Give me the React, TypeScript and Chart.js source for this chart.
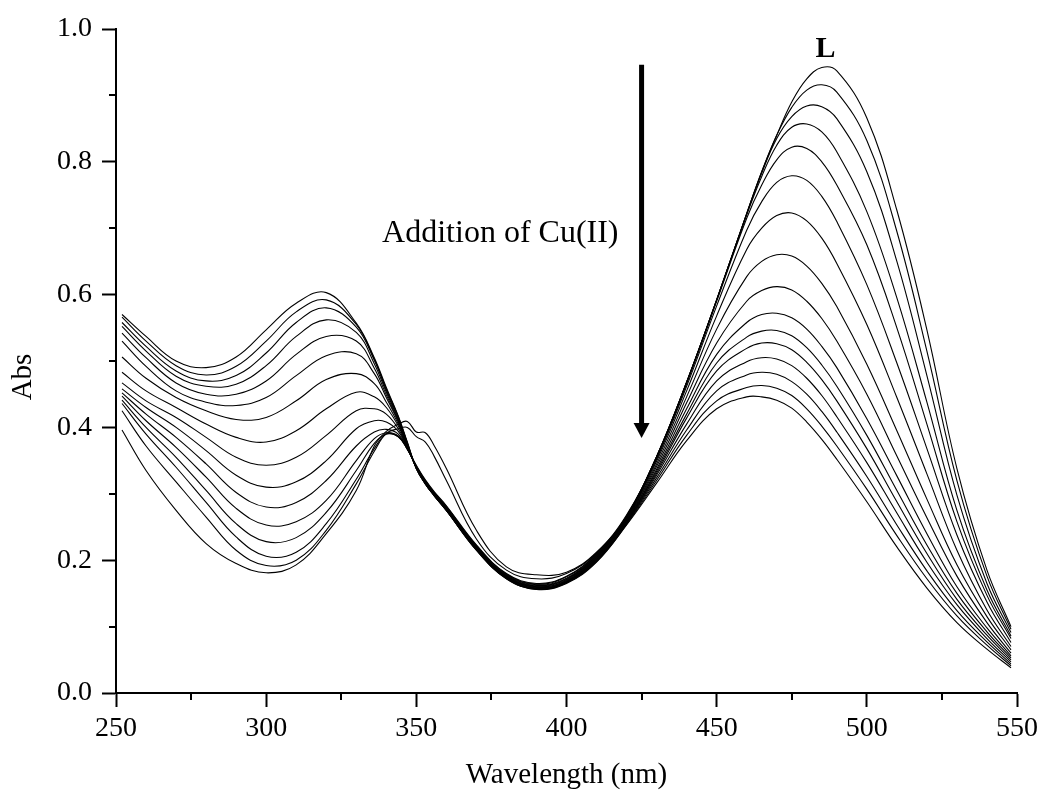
import { useEffect, useRef } from 'react';
import { Chart, registerables } from 'chart.js';

Chart.register(...registerables);

// Wavelength grid (nm)
const WAVELENGTHS = [252, 260, 270, 280, 290, 300, 310, 320, 330, 336, 340, 344, 347, 350, 353, 356, 360, 370, 380, 390, 400, 410, 420, 430, 440, 450, 460, 465, 470, 475, 480, 485, 490, 500, 510, 520, 530, 540, 548];

// Absorbance spectra, from free ligand L (curve 0) to the last Cu(II) addition (curve 15)
const CURVE_00 = [0.396, 0.335, 0.275, 0.225, 0.195, 0.181, 0.193, 0.240, 0.305, 0.372, 0.394, 0.405, 0.409, 0.393, 0.392, 0.372, 0.338, 0.245, 0.190, 0.178, 0.182, 0.212, 0.268, 0.356, 0.468, 0.592, 0.722, 0.785, 0.840, 0.890, 0.925, 0.942, 0.937, 0.866, 0.727, 0.547, 0.338, 0.185, 0.100];
const CURVE_01 = [0.425, 0.372, 0.318, 0.265, 0.215, 0.192, 0.200, 0.245, 0.315, 0.364, 0.391, 0.398, 0.400, 0.386, 0.378, 0.356, 0.320, 0.232, 0.185, 0.172, 0.180, 0.211, 0.267, 0.356, 0.468, 0.592, 0.722, 0.785, 0.840, 0.882, 0.908, 0.916, 0.905, 0.832, 0.695, 0.515, 0.320, 0.176, 0.096];
const CURVE_02 = [0.436, 0.390, 0.340, 0.287, 0.235, 0.206, 0.212, 0.255, 0.322, 0.368, 0.390, 0.386, 0.367, 0.343, 0.321, 0.303, 0.282, 0.223, 0.180, 0.165, 0.176, 0.210, 0.266, 0.356, 0.468, 0.592, 0.722, 0.783, 0.835, 0.868, 0.884, 0.883, 0.865, 0.785, 0.650, 0.478, 0.298, 0.165, 0.091];
const CURVE_03 = [0.441, 0.400, 0.355, 0.305, 0.255, 0.228, 0.234, 0.272, 0.335, 0.376, 0.390, 0.386, 0.367, 0.342, 0.320, 0.302, 0.281, 0.222, 0.179, 0.164, 0.175, 0.209, 0.265, 0.356, 0.468, 0.592, 0.720, 0.778, 0.825, 0.852, 0.857, 0.845, 0.815, 0.725, 0.595, 0.438, 0.275, 0.155, 0.086];
const CURVE_04 = [0.447, 0.410, 0.370, 0.325, 0.278, 0.253, 0.258, 0.290, 0.350, 0.383, 0.392, 0.387, 0.367, 0.341, 0.319, 0.301, 0.280, 0.221, 0.178, 0.163, 0.173, 0.208, 0.264, 0.354, 0.466, 0.590, 0.715, 0.765, 0.803, 0.822, 0.820, 0.800, 0.765, 0.675, 0.550, 0.405, 0.258, 0.147, 0.082];
const CURVE_05 = [0.452, 0.420, 0.385, 0.345, 0.302, 0.280, 0.287, 0.320, 0.372, 0.393, 0.397, 0.390, 0.368, 0.341, 0.318, 0.300, 0.279, 0.220, 0.177, 0.162, 0.172, 0.207, 0.263, 0.352, 0.462, 0.583, 0.697, 0.740, 0.769, 0.779, 0.772, 0.748, 0.710, 0.615, 0.497, 0.368, 0.238, 0.137, 0.076];
const CURVE_06 = [0.458, 0.430, 0.400, 0.365, 0.328, 0.310, 0.318, 0.350, 0.398, 0.410, 0.408, 0.394, 0.369, 0.340, 0.318, 0.300, 0.278, 0.219, 0.176, 0.161, 0.171, 0.206, 0.262, 0.349, 0.455, 0.568, 0.668, 0.700, 0.719, 0.723, 0.711, 0.685, 0.647, 0.555, 0.445, 0.330, 0.215, 0.125, 0.070];
const CURVE_07 = [0.467, 0.440, 0.415, 0.385, 0.355, 0.343, 0.355, 0.388, 0.425, 0.428, 0.420, 0.398, 0.370, 0.340, 0.317, 0.299, 0.278, 0.219, 0.176, 0.160, 0.170, 0.205, 0.261, 0.345, 0.446, 0.548, 0.627, 0.650, 0.660, 0.658, 0.643, 0.617, 0.582, 0.495, 0.395, 0.292, 0.193, 0.115, 0.065];
const CURVE_08 = [0.483, 0.455, 0.430, 0.405, 0.385, 0.378, 0.395, 0.428, 0.453, 0.446, 0.430, 0.402, 0.371, 0.340, 0.317, 0.299, 0.277, 0.218, 0.175, 0.160, 0.169, 0.204, 0.260, 0.341, 0.437, 0.527, 0.590, 0.606, 0.612, 0.607, 0.590, 0.564, 0.530, 0.450, 0.357, 0.264, 0.176, 0.106, 0.060];
const CURVE_09 = [0.506, 0.474, 0.445, 0.425, 0.412, 0.415, 0.440, 0.472, 0.481, 0.466, 0.438, 0.405, 0.372, 0.340, 0.317, 0.298, 0.277, 0.218, 0.175, 0.159, 0.168, 0.203, 0.259, 0.337, 0.428, 0.510, 0.558, 0.570, 0.572, 0.565, 0.548, 0.522, 0.490, 0.413, 0.327, 0.240, 0.160, 0.098, 0.056];
const CURVE_10 = [0.530, 0.492, 0.455, 0.438, 0.433, 0.445, 0.478, 0.508, 0.511, 0.481, 0.445, 0.408, 0.373, 0.339, 0.316, 0.298, 0.276, 0.217, 0.174, 0.158, 0.168, 0.202, 0.258, 0.334, 0.420, 0.497, 0.536, 0.545, 0.546, 0.538, 0.520, 0.494, 0.462, 0.388, 0.305, 0.223, 0.150, 0.092, 0.053];
const CURVE_11 = [0.542, 0.505, 0.467, 0.450, 0.450, 0.470, 0.510, 0.537, 0.530, 0.489, 0.449, 0.410, 0.374, 0.339, 0.316, 0.298, 0.276, 0.217, 0.174, 0.158, 0.167, 0.201, 0.257, 0.331, 0.414, 0.485, 0.519, 0.527, 0.526, 0.517, 0.498, 0.472, 0.440, 0.368, 0.288, 0.210, 0.141, 0.087, 0.050];
const CURVE_12 = [0.552, 0.515, 0.477, 0.462, 0.465, 0.493, 0.537, 0.562, 0.543, 0.496, 0.453, 0.412, 0.375, 0.338, 0.315, 0.297, 0.275, 0.216, 0.173, 0.157, 0.167, 0.200, 0.256, 0.328, 0.405, 0.470, 0.499, 0.505, 0.503, 0.493, 0.474, 0.448, 0.416, 0.347, 0.271, 0.197, 0.133, 0.082, 0.047];
const CURVE_13 = [0.558, 0.522, 0.485, 0.470, 0.478, 0.512, 0.558, 0.580, 0.551, 0.501, 0.456, 0.414, 0.376, 0.338, 0.315, 0.297, 0.275, 0.216, 0.173, 0.157, 0.166, 0.199, 0.255, 0.324, 0.396, 0.455, 0.479, 0.483, 0.480, 0.469, 0.450, 0.424, 0.393, 0.326, 0.253, 0.184, 0.124, 0.077, 0.044];
const CURVE_14 = [0.566, 0.530, 0.493, 0.479, 0.492, 0.530, 0.574, 0.592, 0.555, 0.503, 0.458, 0.416, 0.377, 0.338, 0.315, 0.297, 0.275, 0.215, 0.172, 0.156, 0.166, 0.198, 0.254, 0.320, 0.388, 0.440, 0.460, 0.463, 0.459, 0.448, 0.428, 0.402, 0.372, 0.307, 0.237, 0.172, 0.116, 0.072, 0.041];
const CURVE_15 = [0.570, 0.537, 0.500, 0.490, 0.506, 0.547, 0.587, 0.603, 0.557, 0.505, 0.460, 0.417, 0.378, 0.338, 0.315, 0.297, 0.275, 0.215, 0.172, 0.156, 0.165, 0.197, 0.253, 0.316, 0.380, 0.428, 0.446, 0.446, 0.441, 0.429, 0.408, 0.382, 0.352, 0.288, 0.220, 0.158, 0.106, 0.066, 0.038];

const SPECTRA = [
  CURVE_00, CURVE_01, CURVE_02, CURVE_03, CURVE_04, CURVE_05, CURVE_06, CURVE_07,
  CURVE_08, CURVE_09, CURVE_10, CURVE_11, CURVE_12, CURVE_13, CURVE_14, CURVE_15,
];

// Axes
const X_MIN = 250;
const X_MAX = 550;
const X_STEP = 50;
const X_MINOR_TICKS = [275, 325, 375, 425, 475, 525];
const Y_MIN = 0;
const Y_MAX = 1.0;
const Y_STEP = 0.2;
const Y_MINOR_TICKS = [0.1, 0.3, 0.5, 0.7, 0.9];

const X_TITLE = 'Wavelength (nm)';
const Y_TITLE = 'Abs';

// Annotations (data coordinates)
const ARROW_X = 425;
const ARROW_Y_TOP = 0.946;
const ARROW_Y_TIP = 0.384;
const ARROW_TEXT = 'Addition of Cu(II)';
const ARROW_TEXT_X = 338.6;
const ARROW_TEXT_Y = 0.679;
const LIGAND_LABEL = 'L';
const LIGAND_LABEL_X = 486.2;
const LIGAND_LABEL_Y = 0.958;

const SERIF = "'Liberation Serif', 'Times New Roman', Times, serif";

const decorPlugin = {
  id: 'decor',
  afterDraw(chart: any) {
    const { ctx, chartArea } = chart;
    const x = chart.scales.x;
    const y = chart.scales.y;
    ctx.save();
    ctx.strokeStyle = '#000';
    ctx.fillStyle = '#000';
    ctx.lineWidth = 2;
    // minor ticks
    for (const v of X_MINOR_TICKS) {
      const px = Math.round(x.getPixelForValue(v));
      ctx.beginPath();
      ctx.moveTo(px, chartArea.bottom);
      ctx.lineTo(px, chartArea.bottom + 7);
      ctx.stroke();
    }
    for (const v of Y_MINOR_TICKS) {
      const py = Math.round(y.getPixelForValue(v));
      ctx.beginPath();
      ctx.moveTo(chartArea.left, py);
      ctx.lineTo(chartArea.left - 7, py);
      ctx.stroke();
    }
    // arrow
    const ax = x.getPixelForValue(ARROW_X);
    const aTop = y.getPixelForValue(ARROW_Y_TOP);
    const aTip = y.getPixelForValue(ARROW_Y_TIP);
    ctx.lineWidth = 5;
    ctx.beginPath();
    ctx.moveTo(ax, aTop);
    ctx.lineTo(ax, aTip - 12);
    ctx.stroke();
    ctx.beginPath();
    ctx.moveTo(ax - 8, aTip - 15);
    ctx.lineTo(ax + 8, aTip - 15);
    ctx.lineTo(ax, aTip);
    ctx.closePath();
    ctx.fill();
    // texts
    ctx.font = `32px ${SERIF}`;
    ctx.textAlign = 'left';
    ctx.textBaseline = 'alphabetic';
    ctx.fillText(ARROW_TEXT, x.getPixelForValue(ARROW_TEXT_X), y.getPixelForValue(ARROW_TEXT_Y));
    ctx.font = `bold 30px ${SERIF}`;
    ctx.textAlign = 'center';
    ctx.fillText(LIGAND_LABEL, x.getPixelForValue(LIGAND_LABEL_X), y.getPixelForValue(LIGAND_LABEL_Y));
    // y title
    ctx.font = `29px ${SERIF}`;
    ctx.textAlign = 'center';
    ctx.textBaseline = 'middle';
    ctx.translate(23, (chartArea.top + chartArea.bottom) / 2 + 16);
    ctx.rotate(-Math.PI / 2);
    ctx.fillText(Y_TITLE, 0, 0);
    ctx.restore();
  },
};

export default function App() {
  const canvasRef = useRef<HTMLCanvasElement | null>(null);

  useEffect(() => {
    if (!canvasRef.current) return;
    const datasets = SPECTRA.map((values, i) => ({
      label: i === 0 ? 'L' : `Cu(II) ${i}`,
      data: WAVELENGTHS.map((w, k) => ({ x: w, y: values[k] })),
      borderColor: '#000',
      borderWidth: 1.1,
      pointRadius: 0,
      fill: false,
      tension: 0.4,
    }));
    const chart = new Chart(canvasRef.current, {
      type: 'line',
      data: { datasets },
      plugins: [decorPlugin],
      options: {
        animation: false,
        responsive: true,
        maintainAspectRatio: false,
        devicePixelRatio: 1,
        layout: { padding: { top: 29, right: 27, left: 0, bottom: 0 } },
        plugins: { legend: { display: false }, tooltip: { enabled: false } },
        scales: {
          x: {
            type: 'linear',
            min: X_MIN,
            max: X_MAX,
            afterFit: (s: any) => { s.height = 107; },
            ticks: {
              stepSize: X_STEP,
              autoSkip: false,
              maxRotation: 0,
              padding: 5,
              color: '#000',
              font: { family: SERIF, size: 28 },
              callback: (v: any) => String(v),
            },
            grid: { drawOnChartArea: false, drawTicks: true, tickLength: 14, tickWidth: 2, tickColor: '#000', color: '#000' },
            border: { display: true, color: '#000', width: 2 },
            title: { display: true, text: X_TITLE, color: '#000', font: { family: SERIF, size: 29 }, padding: { top: 0, bottom: 7 } },
          },
          y: {
            type: 'linear',
            min: Y_MIN,
            max: Y_MAX,
            afterFit: (s: any) => { s.width = 116; },
            ticks: {
              stepSize: Y_STEP,
              autoSkip: false,
              padding: 10,
              color: '#000',
              font: { family: SERIF, size: 28 },
              callback: (v: any) => Number(v).toFixed(1),
            },
            grid: { drawOnChartArea: false, drawTicks: true, tickLength: 14, tickWidth: 2, tickColor: '#000', color: '#000' },
            border: { display: true, color: '#000', width: 2 },
          },
        },
      },
    });
    return () => chart.destroy();
  }, []);

  return (
    <div style={{ position: 'absolute', left: 0, top: 0, width: 1044, height: 800, background: '#fff' }}>
      <canvas ref={canvasRef} />
    </div>
  );
}
